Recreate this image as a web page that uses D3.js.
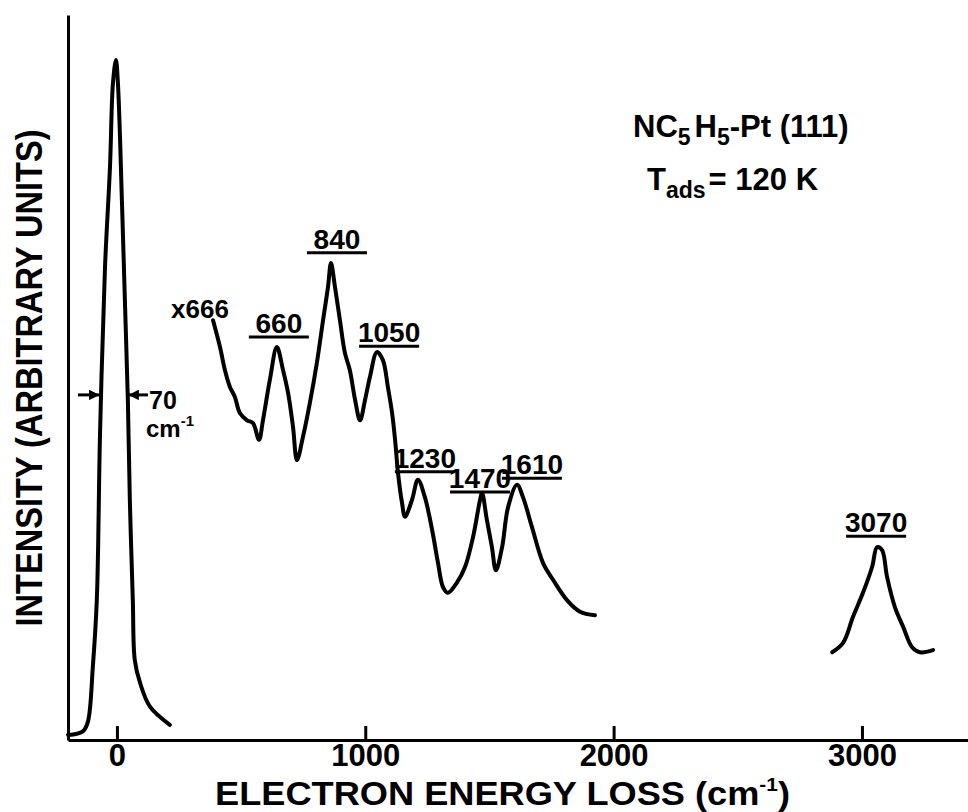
<!DOCTYPE html>
<html>
<head>
<meta charset="utf-8">
<script src="https://cdn.jsdelivr.net/npm/d3@7"></script>
<style>
  body { margin: 0; background: #fff; }
  text { font-family: "Liberation Sans", Arial, sans-serif; font-weight: bold; fill: #000; }
</style>
</head>
<body>
<svg id="chart" width="968" height="812"></svg>
<script>
/******** Data ********/
// elastic peak (x1)
var elasticX = [-197, -137, -117, -97, -81, -68, -48, -28, -16, -4, 4, 20, 32, 44, 52, 64, 72, 93, 133, 213];
var elasticY = [0.7, 1.2, 2.5, 10.1, 19.3, 42.3, 65.2, 79.0, 90.6, 93.8, 90.6, 74.5, 60.7, 46.9, 33.1, 19.3, 11.0, 7.9, 4.6, 2.1];

// loss region, x666
var lossX = [387, 415, 435, 455, 475, 495, 524, 548, 572, 588, 616, 644, 669, 689, 709, 725, 749, 777, 805, 830,
             850, 862, 878, 898, 918, 938, 959, 979, 999, 1019, 1047, 1071, 1091, 1108, 1120, 1132, 1148, 1160, 1188, 1212,
             1240, 1269, 1293, 1313, 1333, 1369, 1402, 1434, 1462, 1470, 1490, 1510, 1526, 1551, 1575, 1611, 1635, 1671, 1716, 1756,
             1812, 1865, 1925];
var lossY = [57.9, 54.2, 51.0, 48.7, 47.3, 45.1, 44.1, 43.7, 41.4, 44.1, 49.7, 54.2, 51.0, 47.9, 43.2, 38.6, 41.8, 46.5, 52.0, 57.9,
             62.5, 65.8, 62.5, 57.9, 53.4, 51.0, 46.9, 44.1, 46.9, 50.1, 53.5, 52.4, 48.7, 45.1, 41.4, 36.8, 32.7, 30.8, 33.1, 35.9,
             33.5, 29.0, 24.4, 21.1, 20.3, 21.7, 23.9, 28.0, 33.1, 34.1, 30.3, 26.6, 23.4, 26.6, 32.1, 35.2, 33.5, 29.4, 24.4, 22.1,
             19.3, 17.7, 17.2];

// C-H stretch region
var chX = [2880, 2924, 2964, 3004, 3041, 3061, 3081, 3101, 3133, 3166, 3202, 3234, 3286];
var chY = [12.1, 13.4, 17.0, 20.3, 23.9, 26.6, 26.2, 22.5, 18.3, 15.6, 12.8, 12.1, 12.4];

// peak labels (label centre x, underline level)
var peakLabels = ["660", "840", "1050", "1230", "1470", "1610", "3070"];
var peakLabelX = [652, 886, 1096, 1240, 1462, 1671, 3057];
var peakLabelY = [55.6, 67.2, 54.3, 37.0, 34.2, 36.1, 28.1];

var xTicks = [0, 1000, 2000, 3000];

/******** Chart ********/
var svg = d3.select("#chart");

var x = d3.scaleLinear().domain([-197, 3427]).range([68, 968]);
var y = d3.scaleLinear().domain([0, 100]).range([740, 15]);

var line = d3.line()
  .x(d => x(d[0]))
  .y(d => y(d[1]))
  .curve(d3.curveCatmullRom.alpha(0.5));

function drawTrace(xs, ys) {
  svg.append("path")
    .datum(d3.zip(xs, ys))
    .attr("fill", "none")
    .attr("stroke", "#000")
    .attr("stroke-width", 4)
    .attr("stroke-linejoin", "round")
    .attr("stroke-linecap", "round")
    .attr("d", line);
}

drawTrace(elasticX, elasticY);
drawTrace(lossX, lossY);
drawTrace(chX, chY);

/******** Axes ********/
var xAxis = d3.axisBottom(x)
  .tickValues(xTicks)
  .tickFormat(d3.format("d"))
  .tickSizeInner(-14)
  .tickSizeOuter(0)
  .tickPadding(4);

var gx = svg.append("g")
  .attr("transform", "translate(0," + y(0) + ")")
  .call(xAxis)
  .attr("font-size", 31);
gx.select(".domain").attr("stroke-width", 3);
gx.selectAll(".tick line").attr("stroke-width", 3);

var gy = svg.append("g")
  .attr("transform", "translate(" + x.range()[0] + ",0)")
  .call(d3.axisLeft(y).ticks(0).tickSizeOuter(0));
gy.select(".domain").attr("stroke-width", 3);

var xTitle = svg.append("text")
  .attr("x", 215)
  .attr("y", 805)
  .attr("font-size", 33)
  .attr("textLength", 575)
  .attr("lengthAdjust", "spacingAndGlyphs");
xTitle.append("tspan").text("ELECTRON ENERGY LOSS (cm");
xTitle.append("tspan").attr("font-size", 19).attr("dy", -14).text("-1");
xTitle.append("tspan").attr("dy", 14).text(")");

svg.append("text")
  .attr("transform", "translate(42,378) rotate(-90)")
  .attr("text-anchor", "middle")
  .attr("font-size", 36)
  .attr("textLength", 497)
  .attr("lengthAdjust", "spacingAndGlyphs")
  .text("INTENSITY (ARBITRARY UNITS)");

/******** Annotations ********/
svg.selectAll(".peak-label")
  .data(peakLabels)
  .enter().append("text")
  .attr("class", "peak-label")
  .attr("x", (d, i) => x(peakLabelX[i]))
  .attr("y", (d, i) => y(peakLabelY[i]) - 4)
  .attr("text-anchor", "middle")
  .attr("font-size", 28)
  .text(d => d);

svg.selectAll(".peak-line")
  .data(peakLabels)
  .enter().append("line")
  .attr("x1", (d, i) => x(peakLabelX[i]) - 30)
  .attr("x2", (d, i) => x(peakLabelX[i]) + 30)
  .attr("y1", (d, i) => y(peakLabelY[i]))
  .attr("y2", (d, i) => y(peakLabelY[i]))
  .attr("stroke", "#000")
  .attr("stroke-width", 3);

// multiplier label at start of loss trace
svg.append("text")
  .attr("x", x(lossX[0]) - 42)
  .attr("y", y(lossY[0]) - 2)
  .attr("font-size", 26)
  .text("x666");

// FWHM arrows on elastic peak
var halfY = y(47.6);
svg.append("defs").append("marker")
  .attr("id", "arrow")
  .attr("viewBox", "0 0 10 10")
  .attr("refX", 10).attr("refY", 5)
  .attr("markerWidth", 3.5).attr("markerHeight", 3.5)
  .attr("orient", "auto")
  .append("path").attr("d", "M0,0L10,5L0,10z").attr("fill", "#000");

svg.append("line")
  .attr("x1", x(-157)).attr("x2", x(-70))
  .attr("y1", halfY).attr("y2", halfY)
  .attr("stroke", "#000").attr("stroke-width", 3)
  .attr("marker-end", "url(#arrow)");
svg.append("line")
  .attr("x1", x(125)).attr("x2", x(46))
  .attr("y1", halfY).attr("y2", halfY)
  .attr("stroke", "#000").attr("stroke-width", 3)
  .attr("marker-end", "url(#arrow)");

svg.append("text").attr("x", 149).attr("y", 409).attr("font-size", 25).text("70");
var cm = svg.append("text").attr("x", 146).attr("y", 437).attr("font-size", 24);
cm.append("tspan").text("cm");
cm.append("tspan").attr("font-size", 15).attr("dy", -11).text("-1");

// sample description
var t1 = svg.append("text").attr("x", 633).attr("y", 137).attr("font-size", 31);
t1.append("tspan").text("NC");
t1.append("tspan").attr("font-size", 23).attr("dy", 8).text("5");
t1.append("tspan").attr("dy", -8).attr("dx", 4).text("H");
t1.append("tspan").attr("font-size", 23).attr("dy", 8).text("5");
t1.append("tspan").attr("dy", -8).text("-Pt (111)");

var t2 = svg.append("text").attr("x", 647).attr("y", 190).attr("font-size", 31);
t2.append("tspan").text("T");
t2.append("tspan").attr("font-size", 23).attr("dy", 8).text("ads");
t2.append("tspan").attr("dy", -8).attr("dx", 3).text("= 120 K");
</script>
</body>
</html>
